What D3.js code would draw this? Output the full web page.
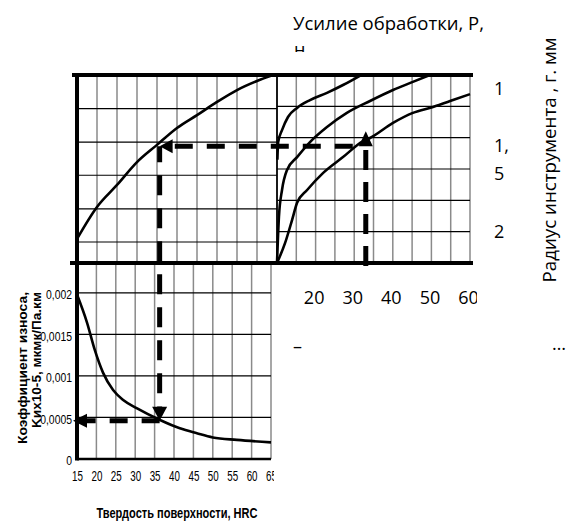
<!DOCTYPE html>
<html>
<head>
<meta charset="utf-8">
<script src="https://cdn.jsdelivr.net/npm/d3@7"></script>
<style>
  body { margin: 0; background: #fff; }
  svg { display: block; }
</style>
</head>
<body>
<div id="chart"></div>
<script>
const WIDTH = 569;
const HEIGHT = 522;

// нижний график: коэффициент износа от твердости HRC
const hrcTicks = [15, 20, 25, 30, 35, 40, 45, 50, 55, 60, 65];
const wearTicks = [0, 0.0005, 0.001, 0.0015, 0.002];
const wearTickLabels = ["0", "0,0005", "0,001", "0,0015", "0,002"];
const wearHrc = [15, 17.6, 19.6, 21.7, 24.3, 26.9, 30.5, 36.4, 41.5, 45.9, 50, 56.2, 65];
const wearK = [0.00198, 0.00164, 0.00131, 0.00104, 0.00083, 0.00071, 0.00061, 0.00047, 0.00037, 0.00031, 0.00026, 0.00023, 0.0002];

// верхний левый: промежуточная шкала (без подписей) от HRC
const levelHrc = [15, 20, 25, 30, 35, 40, 45, 50, 55, 60, 64];
const levelVal = [0.77, 1.79, 2.49, 3.22, 3.77, 4.31, 4.72, 5.14, 5.52, 5.81, 6.0];
const leftGridLevels = [0.67, 1.73, 2.8, 3.86, 4.93];

// верхний правый: та же шкала от усилия P, для r = 1; 1,5; 2
const forceTicks = [20, 30, 40, 50, 60];
const radiusLabels = ["1", "1,", "5", "2"];
const r1P = [10.6, 10.8, 11.8, 13.35, 15.7, 19.05, 23.45, 27.6, 32.3];
const r1L = [3.3, 3.86, 4.24, 4.66, 4.95, 5.2, 5.43, 5.68, 6.0];
const r15P = [10.5, 11.0, 11.8, 13.1, 15.7, 19.05, 23.45, 28.6, 34.6, 40.55, 45.7, 50.1];
const r15L = [0, 1.47, 2.33, 2.97, 3.38, 3.86, 4.34, 4.79, 5.17, 5.52, 5.78, 6.0];
const r2P = [10.5, 12.6, 14.4, 15.7, 18.3, 22.4, 27.6, 32.8, 34.6, 40.55, 45.7, 50.9, 56.1, 60.5];
const r2L = [0, 0.64, 1.37, 1.92, 2.33, 2.87, 3.38, 3.89, 3.99, 4.47, 4.79, 4.98, 5.2, 5.39];

// пример расчета (пунктир со стрелками)
const exampleP = 33.5;
const exampleLevel = 3.73;
const exampleHrc = 36.3;
const exampleK = 0.00046;

const xTop = d3.scaleLinear().domain([15, 65]).range([77, 277]);
const xBot = d3.scaleLinear().domain([15, 65]).range([77, 271]);
const xP = d3.scaleLinear().domain([10.5, 60.5]).range([277, 470]);
const yLevel = d3.scaleLinear().domain([0, 6]).range([263, 75]);
const yK = d3.scaleLinear().domain([0, 0.00236]).range([459, 263]);

const svg = d3.select("#chart")
  .append("svg")
  .attr("width", WIDTH)
  .attr("height", HEIGHT)
  .style("font-family", "'Open Sans', sans-serif");

const defs = svg.append("defs");
let addClip = (id, x, y, w, h) => defs.append("clipPath").attr("id", id)
  .append("rect").attr("x", x).attr("y", y).attr("width", w).attr("height", h);
addClip("clipRight", 0, 0, 477, HEIGHT);
addClip("clipBottom", 0, 0, 274, HEIGHT);
addClip("clipUnit", 0, 0, WIDTH, 52);

const GRID_V = "#8a8a8a";
const GRID_H = "#000";

let vLines = (vals, fx, y1, y2, color, w) => svg.append("g")
  .selectAll("line").data(vals).enter().append("line")
  .attr("x1", fx).attr("x2", fx).attr("y1", y1).attr("y2", y2)
  .style("stroke", color).style("stroke-width", w);

let hLines = (vals, fy, x1, x2, color, w) => svg.append("g")
  .selectAll("line").data(vals).enter().append("line")
  .attr("y1", fy).attr("y2", fy).attr("x1", x1).attr("x2", x2)
  .style("stroke", color).style("stroke-width", w);

// сетка
vLines(hrcTicks.slice(1, -1), d => xTop(d), yLevel(6), yLevel(0), GRID_V, 1.5);
hLines(leftGridLevels, d => yLevel(d), xTop(15), xTop(65), GRID_H, 1.2);
vLines(d3.range(15.5, 61, 5), d => xP(d), yLevel(6), yLevel(0), GRID_V, 1.5);
hLines([1, 2, 3, 4, 5], d => yLevel(d), xP(10.5), xP(60.5), GRID_H, 1.2);
vLines(hrcTicks.slice(1), d => xBot(d), yK.range()[1], yK(0), GRID_V, 1.5);
hLines(wearTicks.slice(1), d => yK(d), xBot(15), xBot(65), GRID_H, 1.2);

// кривые
let drawCurve = (xs, ys, fx, fy) => svg.append("path")
  .datum(d3.zip(xs, ys))
  .attr("d", d3.line().x(d => fx(d[0])).y(d => fy(d[1])).curve(d3.curveMonotoneX))
  .style("fill", "none")
  .style("stroke", "#000")
  .style("stroke-width", 2.6);

drawCurve(levelHrc, levelVal, xTop, yLevel);
drawCurve(r1P, r1L, xP, yLevel);
drawCurve(r15P, r15L, xP, yLevel);
drawCurve(r2P, r2L, xP, yLevel);
drawCurve(wearHrc, wearK, xBot, yK);

// рамка
hLines([6], d => yLevel(d), 72, 473, "#000", 4);
hLines([0], d => yLevel(d), 70, 473, "#000", 4);
vLines([65], d => xTop(d), yLevel(6), yLevel(0), "#000", 1.8);
vLines([15], d => xBot(d), 73, yK(0) + 1.5, "#000", 4);
hLines([0], d => yK(d), xBot(15), xBot(65), "#000", 2.6);

// пунктир со стрелками
const xr = xP(exampleP);
const yl = yLevel(exampleLevel);
const xv = xBot(exampleHrc);
const yk = yK(exampleK);

let dashed = (pts, dash, offset) => svg.append("path")
  .attr("d", d3.line()(pts))
  .style("fill", "none")
  .style("stroke", "#000")
  .style("stroke-width", 5)
  .style("stroke-dasharray", dash)
  .style("stroke-dashoffset", offset);

let arrow = pts => svg.append("path")
  .attr("d", d3.line()(pts) + "Z")
  .style("fill", "#000");

dashed([[xr, yLevel(0) + 3], [xr, yl]], "20,12", 0);
dashed([[xr, yl], [xv + 13, yl]], "18,14", 19);
dashed([[xv, yl], [xv, yk - 14]], "20,13", 4);
dashed([[xv, yk], [xBot(15) + 10, yk]], "18,14", 0);

arrow([[xr, yl - 15], [xr - 7, yl], [xr + 7, yl]]);
arrow([[xv, yl], [xv + 13, yl - 7], [xv + 13, yl + 7]]);
arrow([[xv, yk], [xv - 7.5, yk - 14], [xv + 7.5, yk - 14]]);
arrow([[xBot(15) - 4, yk], [xBot(15) + 10, yk - 7], [xBot(15) + 10, yk + 7]]);

// оси и подписи
let squeeze = (sel, k) => sel.each(function() {
  let w = this.getComputedTextLength();
  d3.select(this).attr("textLength", w * k).attr("lengthAdjust", "spacingAndGlyphs");
});

const axB = svg.append("g")
  .attr("transform", `translate(0,${yK(0)})`)
  .attr("clip-path", "url(#clipBottom)")
  .call(d3.axisBottom(xBot).tickValues(hrcTicks).tickSize(0).tickPadding(12));
axB.select(".domain").remove();
axB.selectAll("text")
  .style("font-family", "'Liberation Sans', Arial, sans-serif")
  .style("font-size", "14px")
  .attr("fill", "#000")
  .call(squeeze, 0.7);

const axK = svg.append("g")
  .attr("transform", `translate(${xBot(15)},0)`)
  .call(d3.axisLeft(yK).tickValues(wearTicks).tickFormat((d, i) => wearTickLabels[i]).tickSize(0).tickPadding(5));
axK.select(".domain").remove();
axK.selectAll("text")
  .style("font-family", "'Liberation Sans', Arial, sans-serif")
  .style("font-size", "13px")
  .attr("fill", "#000")
  .attr("dy", "0.45em")
  .call(squeeze, 0.8);

const axP = svg.append("g")
  .attr("transform", `translate(0,${yLevel(0)})`)
  .attr("clip-path", "url(#clipRight)")
  .call(d3.axisBottom(xP).tickValues(forceTicks).tickSize(0).tickPadding(28));
axP.select(".domain").remove();
axP.selectAll("text")
  .style("font-family", "'Open Sans', sans-serif")
  .style("font-size", "18px")
  .attr("fill", "#000");

// подписи радиуса справа
svg.append("g")
  .selectAll("text").data(radiusLabels).enter().append("text")
  .attr("x", 494)
  .attr("y", (d, i) => [95, 152, 180, 238][i])
  .style("font-size", "18px")
  .text(d => d);

svg.append("text")
  .attr("x", 293).attr("y", 30)
  .attr("textLength", 191).attr("lengthAdjust", "spacingAndGlyphs")
  .style("font-size", "18px")
  .text("Усилие обработки, Р,");

svg.append("text")
  .attr("x", 294).attr("y", 56)
  .attr("clip-path", "url(#clipUnit)")
  .style("font-size", "18px")
  .text("н");

svg.append("text")
  .attr("transform", "translate(556,160) rotate(-90)")
  .attr("text-anchor", "middle")
  .attr("textLength", 245).attr("lengthAdjust", "spacingAndGlyphs")
  .style("font-size", "18px")
  .text("Радиус инструмента , г. мм");

svg.append("text").attr("x", 293).attr("y", 353).style("font-size", "18px").text("–");
svg.append("text").attr("x", 552).attr("y", 350).style("font-size", "18px").text("…");

// подписи нижнего графика
let boldLabel = (text, tr, len) => svg.append("text")
  .attr("transform", tr)
  .attr("text-anchor", "middle")
  .attr("textLength", len).attr("lengthAdjust", "spacingAndGlyphs")
  .style("font-family", "'Liberation Sans', Arial, sans-serif")
  .style("font-weight", "bold")
  .style("font-size", "12px")
  .text(text);

boldLabel("Коэффициент износа,", "translate(27,368) rotate(-90)", 152);
boldLabel("Kиx10-5, мкмк/Па.км", "translate(41,360) rotate(-90)", 136);
boldLabel("Твердость поверхности, HRC", "translate(177,518)", 161)
  .style("font-size", "14px");
</script>
</body>
</html>
